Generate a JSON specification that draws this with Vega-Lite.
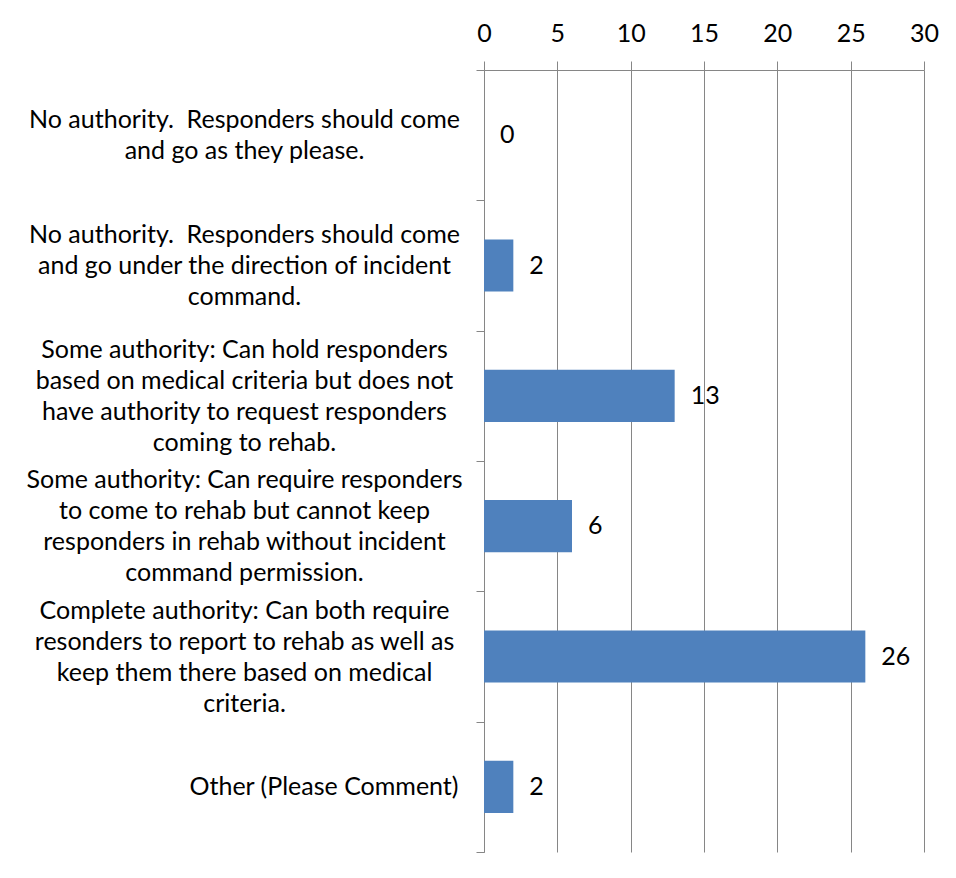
{
  "$schema": "https://vega.github.io/schema/vega-lite/v6.json",
  "width": 440,
  "height": 782,
  "autosize": "none",
  "padding": {"left": 484, "top": 70, "right": 32, "bottom": 26},
  "background": "white",
  "config": {"view": {"stroke": null}},
  "data": {
    "values": [
      {"answer": "No authority.\u00a0 Responders should come|and go as they please.", "count": 0},
      {"answer": "No authority.\u00a0 Responders should come|and go under the direction of incident|command.", "count": 2},
      {"answer": "Some authority: Can hold responders|based on medical criteria but does not|have authority to request responders|coming to rehab.", "count": 13},
      {"answer": "Some authority: Can require responders|to come to rehab but cannot keep|responders in rehab without incident|command permission.", "count": 6},
      {"answer": "Complete authority: Can both require|resonders to report to rehab as well as|keep them there based on medical|criteria.", "count": 26},
      {"answer": "Other (Please Comment)", "count": 2}
    ]
  },
  "encoding": {
    "y": {
      "field": "answer",
      "type": "nominal",
      "sort": null,
      "scale": {"paddingInner": 0, "paddingOuter": 0},
      "axis": {
        "title": null,
        "orient": "left",
        "tickBand": "extent",
        "ticks": true,
        "tickSize": 8,
        "tickColor": "#868686",
        "domainColor": "#868686",
        "grid": false,
        "labelFont": "Lato",
        "labelFontSize": 25,
        "labelColor": "#000000",
        "labelLineHeight": 31,
        "labelLimit": 0,
        "labelBaseline": "middle",
        "labelExpr": "split(datum.label, '|')",
        "labelOffset": {"expr": "-(length(split(datum.value, '|')) - 1) * 15.5"},
        "labelAlign": {"condition": {"test": "datum.label == 'Other (Please Comment)'", "value": "right"}, "value": "center"},
        "labelPadding": {"condition": {"test": "datum.label == 'Other (Please Comment)'", "value": 18}, "value": 232}
      }
    }
  },
  "layer": [
    {
      "mark": {"type": "bar", "height": {"band": 0.4}, "color": "#4F81BD"},
      "encoding": {
        "x": {
          "field": "count",
          "type": "quantitative",
          "scale": {"domain": [0, 30], "nice": false},
          "axis": {
            "title": null,
            "orient": "top",
            "values": [0, 5, 10, 15, 20, 25, 30],
            "grid": true,
            "gridColor": "#868686",
            "tickColor": "#868686",
            "domainColor": "#868686",
            "tickSize": 9,
            "labelFont": "Lato",
            "labelFontSize": 25,
            "labelColor": "#000000",
            "labelPadding": 15,
            "labelFlush": false
          }
        }
      }
    },
    {
      "mark": {"type": "text", "align": "left", "baseline": "middle", "dx": 16, "font": "Lato", "fontSize": 25, "color": "#000000"},
      "encoding": {
        "x": {"field": "count", "type": "quantitative"},
        "text": {"field": "count", "type": "quantitative"}
      }
    }
  ]
}
